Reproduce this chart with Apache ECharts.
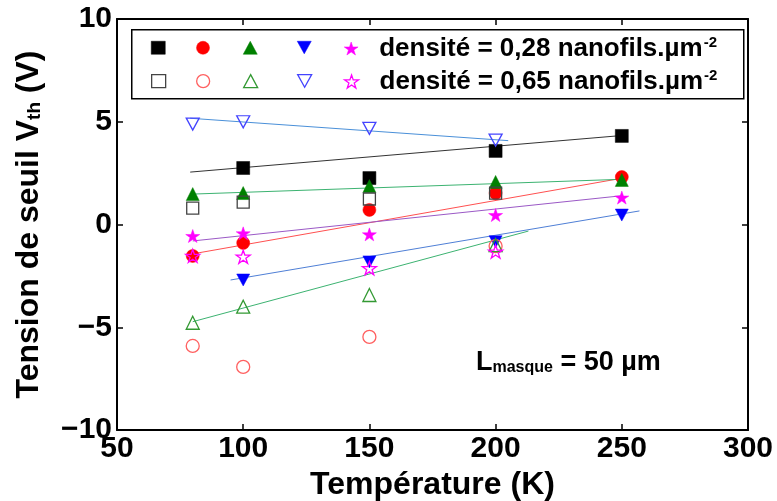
<!DOCTYPE html>
<html>
<head>
<meta charset="utf-8">
<script src="https://cdn.jsdelivr.net/npm/echarts@6/dist/echarts.min.js"></script>
<style>html,body{margin:0;padding:0;background:#fff}#c{width:777px;height:501px}</style>
</head>
<body>
<div id="c"></div>
<script>
// ---- data ----
const temps = [80, 100, 150, 200, 250];
const xTicks = [50, 100, 150, 200, 250, 300];
const yTicks = [-10, -5, 0, 5, 10];
// density 0.28 (filled markers)
const sq28 = [null, 2.75, 2.26, 3.58, 4.31];
const ci28 = [-1.53, -0.90, 0.71, 1.53, 2.31];
const tu28 = [1.48, 1.53, 1.87, 2.07, 2.17];
const td28 = [null, -2.70, -1.82, -0.84, 0.46];
const st28 = [-0.56, -0.43, -0.48, 0.46, 1.31];
// density 0.65 (open markers)
const sq65 = [0.80, 1.09, 1.24, 1.53, null];
const ci65 = [-5.91, -6.93, -5.47, -1.05, null];
const tu65 = [-4.78, -4.00, -3.43, -1.00, null];
const td65 = [4.89, 5.00, 4.68, 4.11, null];
const st65 = [-1.53, -1.57, -2.13, -1.32, null];
// fit lines: [x, y] endpoints
const fitSq28 = [[79, 2.55], [250, 4.33]];
const fitCi28 = [[79, -1.45], [250, 2.25]];
const fitTu28 = [[80, 1.48], [250, 2.2]];
const fitTd28 = [[95, -2.70], [257, 0.66]];
const fitSt28 = [[80, -0.80], [250, 1.40]];
const fitTu65 = [[80, -4.73], [213, -0.32]];
const fitTd65 = [[79, 5.17], [205, 4.08]];
const legendLabels = ['densité = 0,28 nanofils.µm', 'densité = 0,65 nanofils.µm'];

const FONT = '"Liberation Sans", Arial, sans-serif';
const STAR = 'path://M50,0 L61.8,35.1 L98.9,35.1 L68.8,56.8 L80.3,91.9 L50,70.2 L19.7,91.9 L31.2,56.8 L1.1,35.1 L38.2,35.1 Z';
const TDOWN = 'path://M0,0 L100,0 L50,90 Z';

function pts(arr) { return temps.map((t, i) => arr[i] == null ? null : [t, arr[i]]).filter(p => p); }

function itemStyleOf(color, open) {
  return open ? { color: 'rgba(255,255,255,0)', borderColor: color, borderWidth: 1.3, opacity: 1 }
              : { color: color, borderColor: color, borderWidth: 0.5, opacity: 1 };
}
function marker(name, arr, symbol, color, open, size) {
  return {
    name, type: 'scatter', data: pts(arr), symbol,
    symbolSize: size || 13, z: open ? 4 : 3,
    itemStyle: itemStyleOf(color, open),
    emphasis: { disabled: true }, animation: false
  };
}
function fit(data, color) {
  return { type: 'line', data, showSymbol: false, symbol: 'none', z: 2,
    lineStyle: { color, width: 1 }, emphasis: { disabled: true }, animation: false, silent: true };
}

const mk = [
  // name, data, symbol, color, open, size
  ['a1', sq28, 'rect', '#000000', false, 13],
  ['a2', ci28, 'circle', '#ff0000', false, 13],
  ['a3', tu28, 'triangle', '#008000', false, 13],
  ['a4', td28, TDOWN, '#0000ff', false, [13, 12]],
  ['a5', st28, STAR, '#ff00ff', false, [14, 13]],
  ['b1', sq65, 'rect', '#444444', true, 12],
  ['b2', ci65, 'circle', '#ff6060', true, 13],
  ['b3', tu65, 'triangle', '#339933', true, 13],
  ['b4', td65, TDOWN, '#4444ff', true, [13, 12]],
  ['b5', st65, STAR, '#ff00ff', true, [14, 13]]
];

const series = [
  fit(fitSq28, '#333333'), fit(fitCi28, '#ff5050'), fit(fitTu28, '#3cb371'),
  fit(fitTd28, '#4f7fd6'), fit(fitSt28, '#9b59c6'), fit(fitTu65, '#3cb371'), fit(fitTd65, '#4a90d9')
].concat(mk.map(m => marker(m[0], m[1], m[2], m[3], m[4], m[5])));

// legend: one component per symbol so the spacing can follow the reference
const legendX = [151, 196, 243, 297, 344];
const legendTop = [35, 68];
const legends = [];
mk.forEach((m, k) => {
  const row = k < 5 ? 0 : 1, col = k % 5;
  const last = col === 4;
  const label = last ? ('{t|' + legendLabels[row] + '}{sup|-2}') : '';
  legends.push({
    data: [{ name: m[0], icon: m[2], itemStyle: itemStyleOf(m[3], m[4]) }],
    left: legendX[col], top: legendTop[row] + (last ? 0 : 6), itemWidth: 14, itemHeight: 13, itemGap: 0,
    selectedMode: false, padding: 0,
    formatter: function () { return label; },
    textStyle: { fontSize: 26, fontFamily: FONT, fontWeight: 'bold', color: '#000', padding: last ? [0, 0, 0, 16] : 0,
      rich: {
        t: { fontSize: 26, fontWeight: 'bold', fontFamily: FONT, color: '#000' },
        sup: { fontSize: 15, fontWeight: 'bold', fontFamily: FONT, color: '#000', padding: [0, 0, 12, 1] }
      } }
  });
});

const axisCommon = {
  axisLine: { show: true, onZero: false, lineStyle: { color: '#000', width: 2 } },
  axisTick: { show: true, inside: true, length: 6, lineStyle: { color: '#000', width: 1.5 } },
  splitLine: { show: false }
};
const labelStyle = { fontSize: 30, fontWeight: 'bold', fontFamily: FONT, color: '#000' };

const option = {
  backgroundColor: '#fff',
  animation: false,
  grid: { left: 117, right: 29, top: 19, bottom: 71, containLabel: false, outerBoundsMode: 'none' },
  legend: legends,
  xAxis: [
    Object.assign({
      type: 'value', min: xTicks[0], max: xTicks[xTicks.length - 1], interval: 50, position: 'bottom',
      axisLabel: Object.assign({ margin: 4 }, labelStyle),
      name: 'Température (K)', nameLocation: 'middle', nameGap: 35,
      nameTextStyle: { fontSize: 32, fontWeight: 'bold', fontFamily: FONT, color: '#000' }
    }, axisCommon),
    Object.assign({
      type: 'value', min: xTicks[0], max: xTicks[xTicks.length - 1], interval: 50, position: 'top',
      axisLabel: { show: false }
    }, axisCommon)
  ],
  yAxis: [
    Object.assign({
      type: 'value', min: yTicks[0], max: yTicks[yTicks.length - 1], interval: 5, position: 'left',
      axisLabel: Object.assign({ margin: 5, formatter: v => v < 0 ? '\u2212' + Math.abs(v) : String(v) }, labelStyle),
      name: 'Tension de seuil V{sub|th} (V)', nameLocation: 'middle', nameGap: 72,
      nameTextStyle: { fontSize: 32, fontWeight: 'bold', fontFamily: FONT, color: '#000',
        rich: { sub: { fontSize: 19, fontWeight: 'bold', fontFamily: FONT, color: '#000', padding: [12, 0, 0, 0] } } }
    }, axisCommon),
    Object.assign({
      type: 'value', min: yTicks[0], max: yTicks[yTicks.length - 1], interval: 5, position: 'right',
      axisLabel: { show: false }
    }, axisCommon)
  ],
  graphic: [
    { type: 'rect', left: 131, top: 29, shape: { width: 612, height: 69 }, z: 0,
      style: { fill: 'rgba(0,0,0,0)', stroke: '#000', lineWidth: 1.5 } },
    { type: 'text', left: 476, top: 349, z: 10,
      style: { text: 'L{sub|masque} = 50 µm', fill: '#000', font: 'bold 27px ' + FONT,
        rich: { sub: { fontSize: 16, fontWeight: 'bold', fontFamily: FONT, fill: '#000', padding: [10, 0, 0, 0] } } } }
  ],
  series
};
const chart = echarts.init(document.getElementById('c'), null, { renderer: 'canvas' });
chart.setOption(option);
</script>
</body>
</html>
